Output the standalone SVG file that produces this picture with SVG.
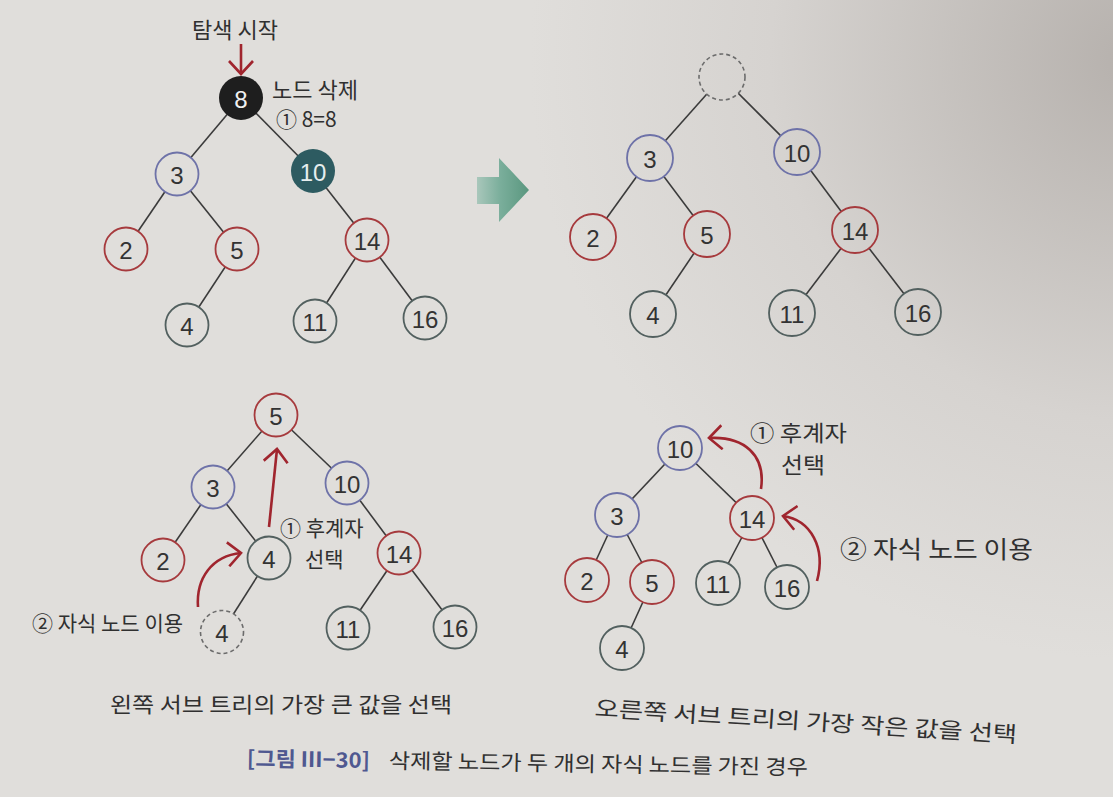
<svg xmlns="http://www.w3.org/2000/svg" width="1113" height="797" viewBox="0 0 1113 797">
<style>
.e{stroke:#3b3b3b;stroke-width:1.6;fill:none}
.nd{fill:url(#bg);stroke-width:1.8}
.blue{stroke:#6e72a8}
.red{stroke:#a63a3d}
.gray{stroke:#52605f}
.dash{fill:url(#bg);stroke:#6c6c6c;stroke-width:1.6;stroke-dasharray:4 3}
.num{font-family:"Liberation Sans",Arial,sans-serif;font-size:24px;fill:#333;text-anchor:middle;dominant-baseline:central}
.kr{font-family:"Noto Sans CJK KR","Noto Sans",sans-serif;fill:#303030;dominant-baseline:central}
.ar{stroke:#a0252e;stroke-width:2.6;fill:none;marker-end:url(#ah)}
</style>
<defs>
<radialGradient id="bg" gradientUnits="userSpaceOnUse" cx="1130" cy="60" r="600">
<stop offset="0" stop-color="#b6b1ad"/>
<stop offset="0.6" stop-color="#d6d3d0"/>
<stop offset="1" stop-color="#e0dedb"/>
</radialGradient>
<linearGradient id="grn" x1="0" y1="0" x2="1" y2="0">
<stop offset="0" stop-color="#a9c7bb"/>
<stop offset="0.45" stop-color="#7aae9b"/>
<stop offset="1" stop-color="#5a977f"/>
</linearGradient>
<marker id="ah" viewBox="0 0 16 26" refX="14" refY="13" markerWidth="16" markerHeight="26" markerUnits="userSpaceOnUse" orient="auto">
<path d="M1,1 L14,13 L1,25" fill="none" stroke="#a0252e" stroke-width="2.6"/>
</marker>
</defs>
<rect x="0" y="0" width="1113" height="797" fill="url(#bg)"/>

<!-- connectors -->
<g id="connectors">
<!-- top-left tree -->
<line class="e" x1="241" y1="98" x2="177" y2="174"/>
<line class="e" x1="241" y1="98" x2="313" y2="171"/>
<line class="e" x1="177" y1="174" x2="126" y2="249"/>
<line class="e" x1="177" y1="174" x2="237" y2="249"/>
<line class="e" x1="237" y1="249" x2="187" y2="325"/>
<line class="e" x1="313" y1="171" x2="367" y2="240"/>
<line class="e" x1="367" y1="240" x2="315" y2="321"/>
<line class="e" x1="367" y1="240" x2="425" y2="318"/>
<!-- top-right tree -->
<line class="e" x1="722" y1="77" x2="650" y2="158"/>
<line class="e" x1="722" y1="77" x2="797" y2="152"/>
<line class="e" x1="650" y1="158" x2="593" y2="237"/>
<line class="e" x1="650" y1="158" x2="707" y2="234"/>
<line class="e" x1="707" y1="234" x2="653" y2="314"/>
<line class="e" x1="797" y1="152" x2="855" y2="230"/>
<line class="e" x1="855" y1="230" x2="792" y2="313"/>
<line class="e" x1="855" y1="230" x2="918" y2="312"/>
<!-- bottom-left tree -->
<line class="e" x1="276" y1="415" x2="213" y2="487"/>
<line class="e" x1="276" y1="415" x2="347" y2="483"/>
<line class="e" x1="213" y1="487" x2="163" y2="560"/>
<line class="e" x1="213" y1="487" x2="269" y2="558"/>
<line class="e" x1="269" y1="558" x2="222" y2="632"/>
<line class="e" x1="347" y1="483" x2="399" y2="553"/>
<line class="e" x1="399" y1="553" x2="348" y2="628"/>
<line class="e" x1="399" y1="553" x2="455" y2="627"/>
<!-- bottom-right tree -->
<line class="e" x1="680" y1="448" x2="617" y2="515"/>
<line class="e" x1="680" y1="448" x2="752" y2="518"/>
<line class="e" x1="617" y1="515" x2="587" y2="580"/>
<line class="e" x1="617" y1="515" x2="652" y2="582"/>
<line class="e" x1="652" y1="582" x2="622" y2="648"/>
<line class="e" x1="752" y1="518" x2="718" y2="583"/>
<line class="e" x1="752" y1="518" x2="787" y2="587"/>
<!-- red arrows -->
<path class="ar" d="M241,44 L241,74"/>
<path class="ar" d="M269,527 L277,449"/>
<path class="ar" d="M198,607 C196,578 212,556 241,553"/>
<path class="ar" d="M761,489 C766,455 744,436 709,438"/>
<path class="ar" d="M817,581 C826,548 811,520 783,516"/>
</g>

<!-- top-left tree nodes -->
<g id="tl-8"><circle cx="241" cy="98" r="22" fill="#1e1e1e"/><text class="num" x="241" y="99" style="fill:#f0f0f0">8</text></g>
<g id="tl-3"><circle class="nd blue" cx="177" cy="174" r="21.5"/><text class="num" x="177" y="175">3</text></g>
<g id="tl-10"><circle cx="313" cy="171" r="22" fill="#2d5b61"/><text class="num" x="313" y="172" style="fill:#e6eeee">10</text></g>
<g id="tl-2"><circle class="nd red" cx="126" cy="249" r="21.5"/><text class="num" x="126" y="250">2</text></g>
<g id="tl-5"><circle class="nd red" cx="237" cy="249" r="21.5"/><text class="num" x="237" y="250">5</text></g>
<g id="tl-14"><circle class="nd red" cx="367" cy="240" r="21.5"/><text class="num" x="367" y="241">14</text></g>
<g id="tl-4"><circle class="nd gray" cx="187" cy="325" r="21.5"/><text class="num" x="187" y="326">4</text></g>
<g id="tl-11"><circle class="nd gray" cx="315" cy="321" r="21.5"/><text class="num" x="315" y="322">11</text></g>
<g id="tl-16"><circle class="nd gray" cx="425" cy="318" r="21.5"/><text class="num" x="425" y="319">16</text></g>

<!-- top-right tree nodes -->
<g id="tr-root"><circle class="dash" cx="722" cy="77" r="23"/></g>
<g id="tr-3"><circle class="nd blue" cx="650" cy="158" r="23"/><text class="num" x="650" y="159">3</text></g>
<g id="tr-10"><circle class="nd blue" cx="797" cy="152" r="23"/><text class="num" x="797" y="153">10</text></g>
<g id="tr-2"><circle class="nd red" cx="593" cy="237" r="23"/><text class="num" x="593" y="238">2</text></g>
<g id="tr-5"><circle class="nd red" cx="707" cy="234" r="23"/><text class="num" x="707" y="235">5</text></g>
<g id="tr-14"><circle class="nd red" cx="855" cy="230" r="23"/><text class="num" x="855" y="231">14</text></g>
<g id="tr-4"><circle class="nd gray" cx="653" cy="314" r="23"/><text class="num" x="653" y="315">4</text></g>
<g id="tr-11"><circle class="nd gray" cx="792" cy="313" r="23"/><text class="num" x="792" y="314">11</text></g>
<g id="tr-16"><circle class="nd gray" cx="918" cy="312" r="23"/><text class="num" x="918" y="313">16</text></g>

<!-- bottom-left tree nodes -->
<g id="bl-5"><circle class="nd red" cx="276" cy="415" r="21.5"/><text class="num" x="276" y="416">5</text></g>
<g id="bl-3"><circle class="nd blue" cx="213" cy="487" r="21.5"/><text class="num" x="213" y="488">3</text></g>
<g id="bl-10"><circle class="nd blue" cx="347" cy="483" r="21.5"/><text class="num" x="347" y="484">10</text></g>
<g id="bl-2"><circle class="nd red" cx="163" cy="560" r="21.5"/><text class="num" x="163" y="561">2</text></g>
<g id="bl-4"><circle class="nd gray" cx="269" cy="558" r="21.5"/><text class="num" x="269" y="559">4</text></g>
<g id="bl-14"><circle class="nd red" cx="399" cy="553" r="21.5"/><text class="num" x="399" y="554">14</text></g>
<g id="bl-4d"><circle class="dash" cx="222" cy="632" r="21.5"/><text class="num" x="222" y="633">4</text></g>
<g id="bl-11"><circle class="nd gray" cx="348" cy="628" r="21.5"/><text class="num" x="348" y="629">11</text></g>
<g id="bl-16"><circle class="nd gray" cx="455" cy="627" r="21.5"/><text class="num" x="455" y="628">16</text></g>

<!-- bottom-right tree nodes -->
<g id="br-10"><circle class="nd blue" cx="680" cy="448" r="22"/><text class="num" x="680" y="449">10</text></g>
<g id="br-3"><circle class="nd blue" cx="617" cy="515" r="22"/><text class="num" x="617" y="516">3</text></g>
<g id="br-14"><circle class="nd red" cx="752" cy="518" r="22"/><text class="num" x="752" y="519">14</text></g>
<g id="br-2"><circle class="nd red" cx="587" cy="580" r="22"/><text class="num" x="587" y="581">2</text></g>
<g id="br-5"><circle class="nd red" cx="652" cy="582" r="22"/><text class="num" x="652" y="583">5</text></g>
<g id="br-11"><circle class="nd gray" cx="718" cy="583" r="22"/><text class="num" x="718" y="584">11</text></g>
<g id="br-16"><circle class="nd gray" cx="787" cy="587" r="22"/><text class="num" x="787" y="588">16</text></g>
<g id="br-4"><circle class="nd gray" cx="622" cy="648" r="22"/><text class="num" x="622" y="649">4</text></g>

<!-- green arrow -->
<g id="green-arrow"><polygon points="477,177 499,177 499,158 529,190 499,222 499,204 477,204" fill="url(#grn)"/></g>

<!-- labels -->
<g id="labels">
<text class="kr" x="192" y="28" font-size="22">탐색 시작</text>
<text class="kr" x="272" y="88" font-size="22">노드 삭제</text>
<text class="kr" x="276" y="118" font-size="21">① 8=8</text>
<text class="kr" x="280" y="527" font-size="21">① 후계자</text>
<text class="kr" x="305" y="558" font-size="21">선택</text>
<text class="kr" x="32" y="622" font-size="21">② 자식 노드 이용</text>
<text class="kr" x="750" y="431" font-size="22" textLength="97" lengthAdjust="spacingAndGlyphs">① 후계자</text>
<text class="kr" x="781" y="463" font-size="22" textLength="44" lengthAdjust="spacingAndGlyphs">선택</text>
<text class="kr" x="840" y="547" font-size="24" textLength="193" lengthAdjust="spacingAndGlyphs">② 자식 노드 이용</text>
<text class="kr" x="110" y="703" font-size="21" textLength="342" lengthAdjust="spacingAndGlyphs">왼쪽 서브 트리의 가장 큰 값을 선택</text>
<text class="kr" x="595" y="706" font-size="22" textLength="423" lengthAdjust="spacingAndGlyphs" transform="rotate(3.6 595 706)">오른쪽 서브 트리의 가장 작은 값을 선택</text>
<g transform="rotate(0.9 247 757)">
<text class="kr" x="247" y="757" font-size="21" font-weight="bold" style="fill:#4f5890" textLength="123" lengthAdjust="spacingAndGlyphs">[그림 Ⅲ−30]</text>
<text class="kr" x="389" y="757" font-size="21" textLength="419" lengthAdjust="spacingAndGlyphs">삭제할 노드가 두 개의 자식 노드를 가진 경우</text>
</g>
</g>
</svg>
